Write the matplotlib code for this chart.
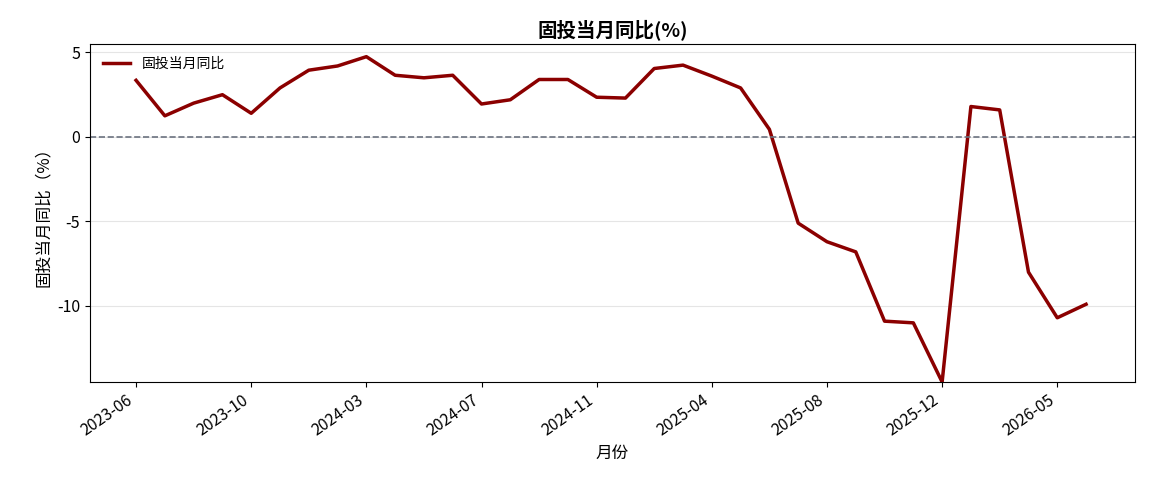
import matplotlib
matplotlib.use("Agg")
import matplotlib.pyplot as plt

plt.rcParams['font.family'] = ['Noto Sans CJK SC', 'DejaVu Sans']
plt.rcParams['axes.unicode_minus'] = False

months = ["2023-06","2023-07","2023-08","2023-09","2023-10","2023-11","2023-12","2024-02",
          "2024-03","2024-04","2024-05","2024-06","2024-07","2024-08","2024-09","2024-10",
          "2024-11","2024-12","2025-02","2025-03","2025-04","2025-05","2025-06","2025-07",
          "2025-08","2025-09","2025-10","2025-11","2025-12","2026-02","2026-03","2026-04",
          "2026-05","2026-06"]
values = [3.35,1.25,2.0,2.5,1.4,2.9,3.95,4.2,4.75,3.65,3.5,3.65,1.95,2.2,3.4,3.4,
          2.35,2.3,4.05,4.25,3.6,2.9,0.45,-5.1,-6.2,-6.8,-10.9,-11.0,-14.5,1.8,1.6,-8.0,
          -10.7,-9.9]

fig = plt.figure(figsize=(11.49, 5.03), dpi=100)
ax = fig.add_axes([90/1149, 1-382/503, 1045/1149, 338/503])
x = list(range(len(months)))
ax.plot(x, values, color='#8b0000', lw=2.5, label='固投当月同比')
ax.axhline(0, color='#6b7280', ls='--', lw=1.2)
ax.grid(axis='y', color='#e5e5e5', lw=0.8)
ax.set_axisbelow(True)
ax.set_ylim(-14.5, 5.5)
ax.set_xlim(-1.6, 34.7)
ax.set_yticks([5, 0, -5, -10])
ax.set_xticks(x[::4])
ax.set_xticklabels(months[::4], rotation=35, ha='right', fontsize=11.5)
ax.tick_params(axis='y', labelsize=11.5)
ax.set_title('固投当月同比(%)', fontsize=14, fontweight='bold')
ax.set_xlabel('月份', fontsize=12)
ax.set_ylabel('固投当月同比（%）', fontsize=12)
ax.legend(loc='upper left', frameon=False, fontsize=10)
fig.savefig('out.png', dpi=100)
